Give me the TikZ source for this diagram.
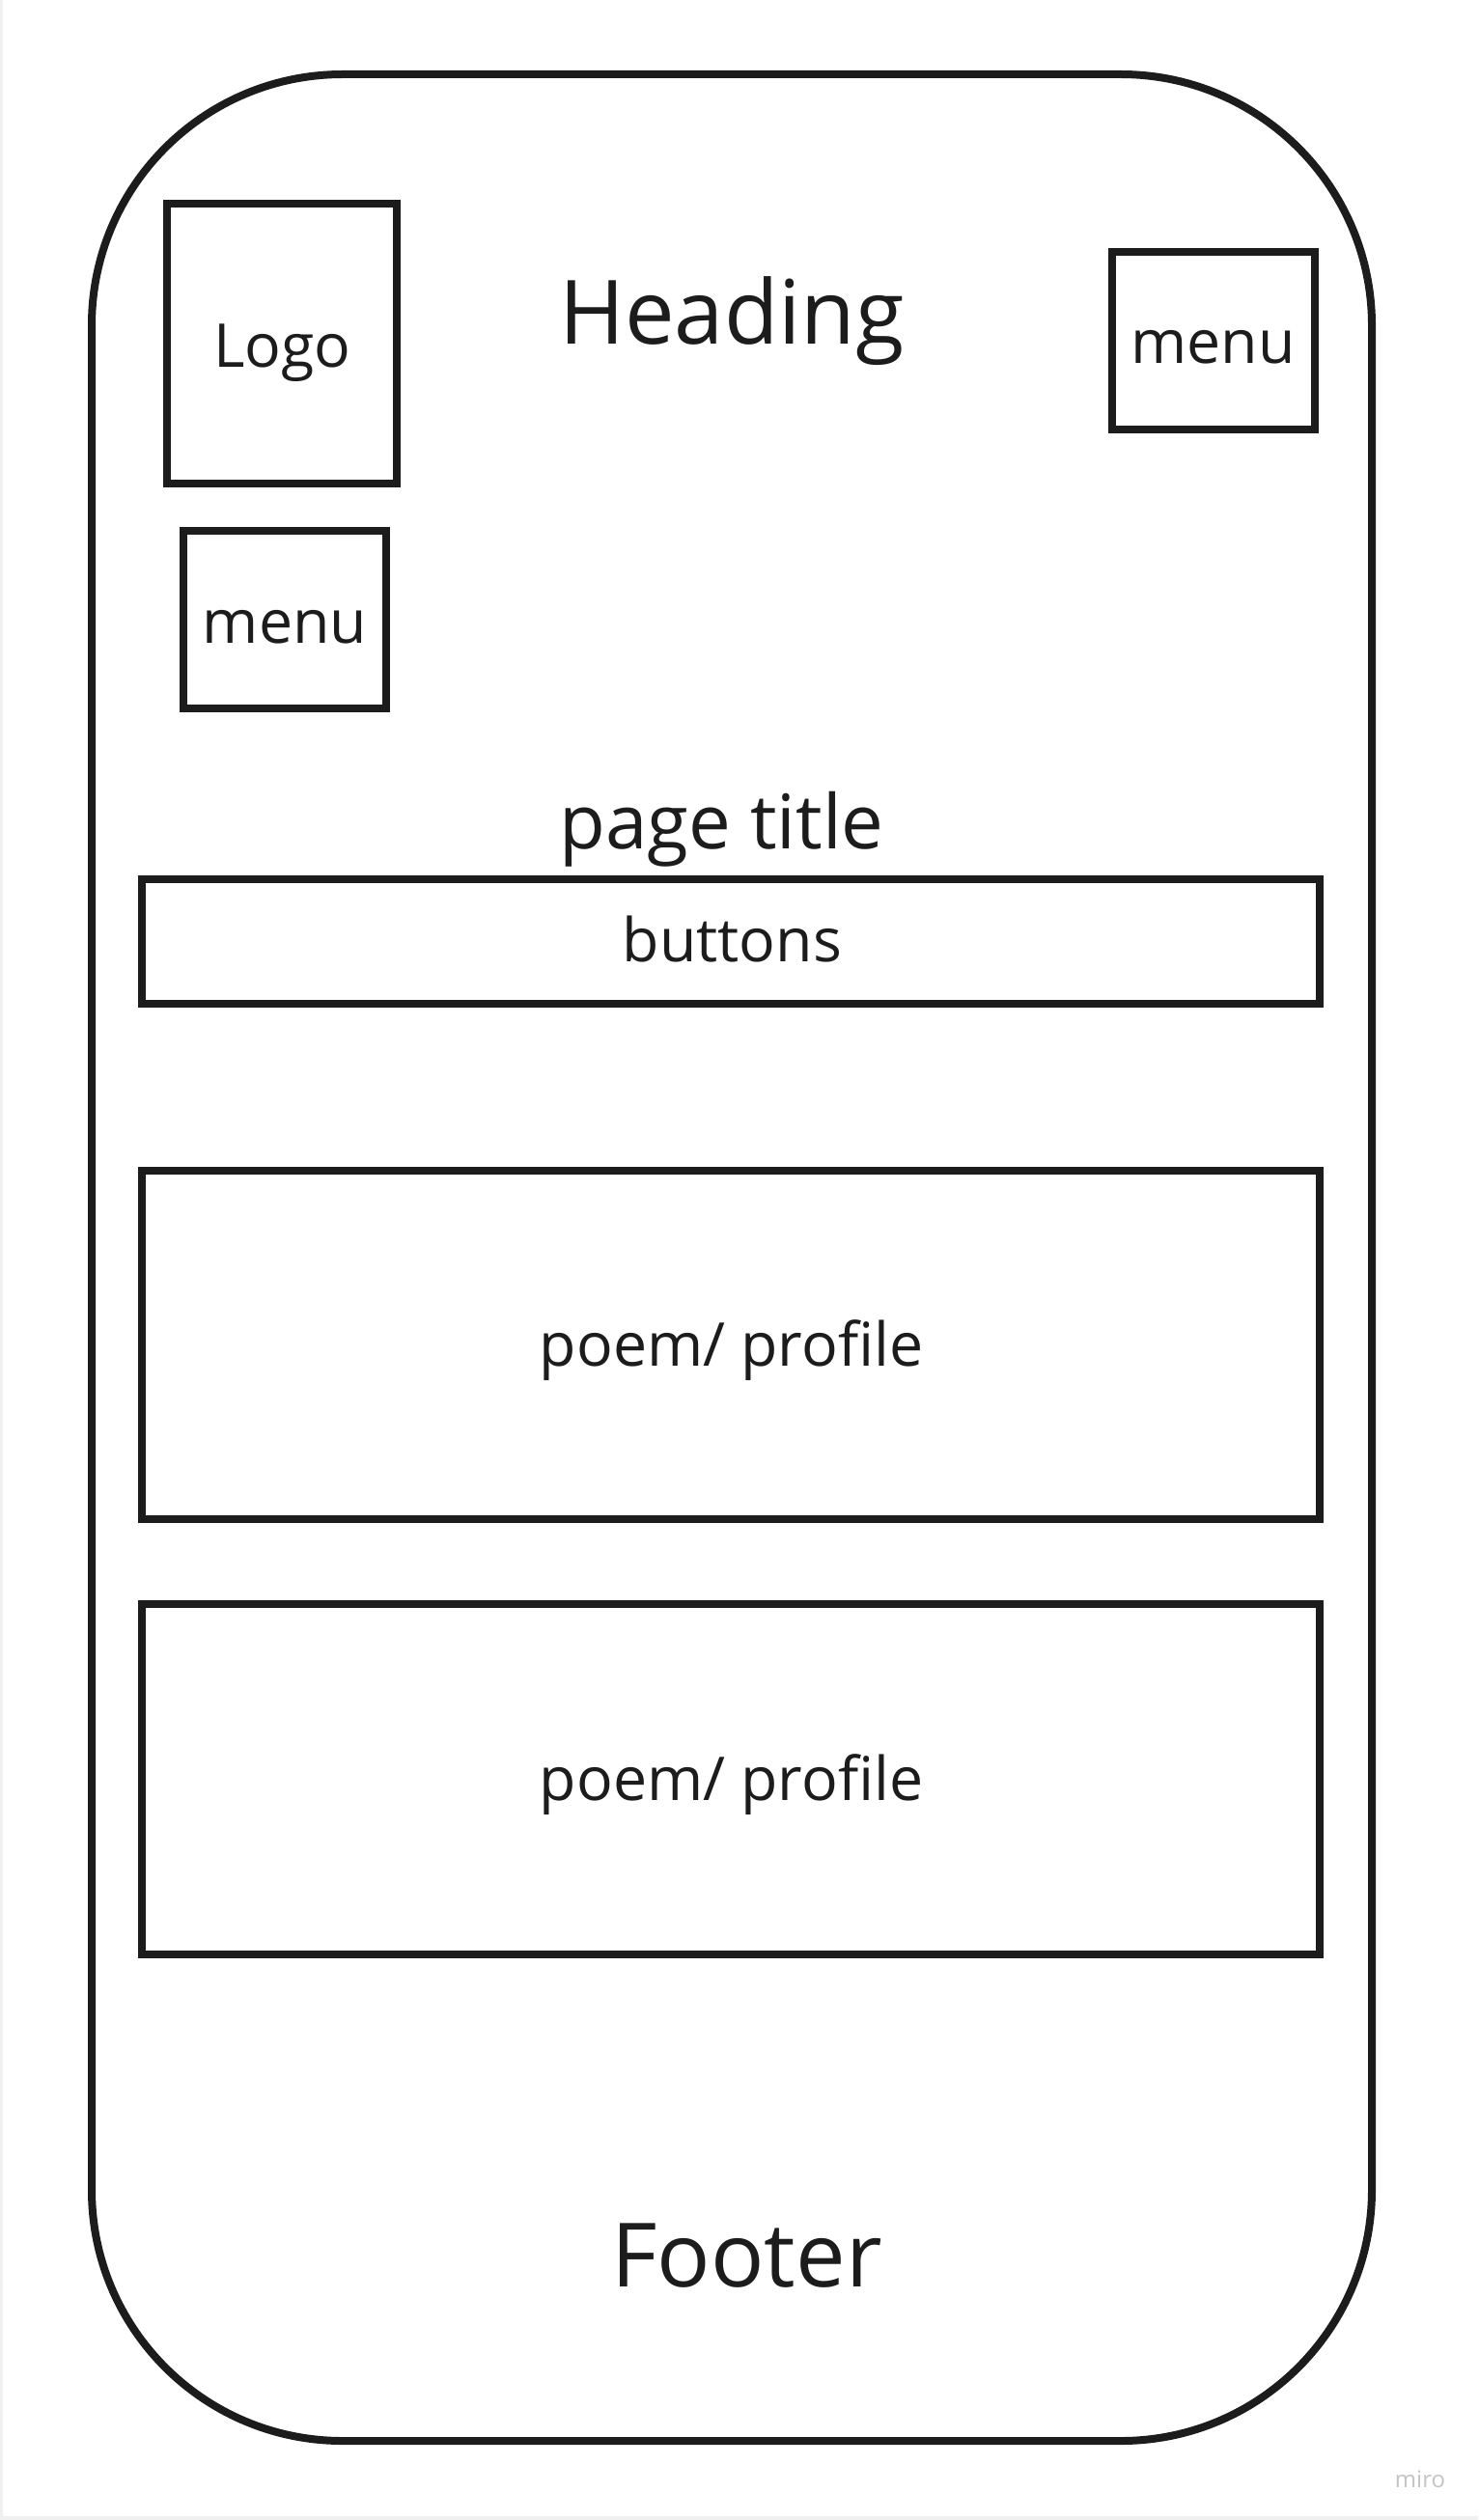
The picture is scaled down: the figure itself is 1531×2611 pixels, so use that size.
\documentclass[tikz,border=0pt]{standalone}
\usepackage{fontspec}
\setmainfont{Open Sans}
\definecolor{ink}{HTML}{1C1C1C}
\definecolor{edge}{HTML}{F0F0F0}
\definecolor{mark}{HTML}{C4C4C4}
\begin{document}
\begin{tikzpicture}[x=0.5pt,y=-0.5pt,
  frame/.style={draw=ink,line width=4pt,inner sep=0pt,outer sep=0pt},
  label/.style={text=ink,inner sep=0pt,anchor=base},
  small/.style={label,font=\fontsize{31.3}{38}\selectfont},
  big/.style={label,font=\fontsize{46}{55}\selectfont}]
\useasboundingbox (0,0) rectangle (1531,2611);
\fill[white] (0,0) rectangle (1531,2611);
% thin grey page edges
\fill[edge] (0,0) rectangle (3,2611);
\fill[edge] (0,2607) rectangle (1531,2611);

% phone outline
\node[frame,rounded corners=130pt,minimum width=663pt,minimum height=1226pt] (phone) at (758,1303) {};

% header boxes
\node[frame,minimum width=119pt,minimum height=144.5pt] (logo) at (292,356) {};
\node[frame,minimum width=105pt,minimum height=92pt] (menuR) at (1257,353) {};
\node[frame,minimum width=105pt,minimum height=92pt] (menuL) at (295,642) {};

% body boxes
\node[frame,minimum width=610pt,minimum height=64.5pt] (buttons) at (757,975) {};
\node[frame,minimum width=610pt,minimum height=180.5pt] (poemA) at (757,1393) {};
\node[frame,minimum width=610pt,minimum height=181.5pt] (poemB) at (757,1843) {};

% texts, placed by their baselines
\node[small] (logoText) at (292.5,380) {Logo};
\node[big] (heading) at (758,357) {Heading};
\node[small] (menuRText) at (1256.5,377) {menu};
\node[small] (menuLText) at (295,666) {menu};
\node[label,font=\fontsize{39}{47}\selectfont] (title) at (747.5,879) {page title};
\node[small] (buttonsText) at (758.5,996) {buttons};
\node[small] (poemAText) at (757.5,1415) {poem/ profile};
\node[small] (poemBText) at (757.5,1865) {poem/ profile};
\node[big] (footer) at (773.5,2369) {Footer};

% watermark
\node[text=mark,inner sep=0pt,font=\fontsize{12}{14}\selectfont] (miro) at (1471,2569) {miro};
\end{tikzpicture}
\end{document}
